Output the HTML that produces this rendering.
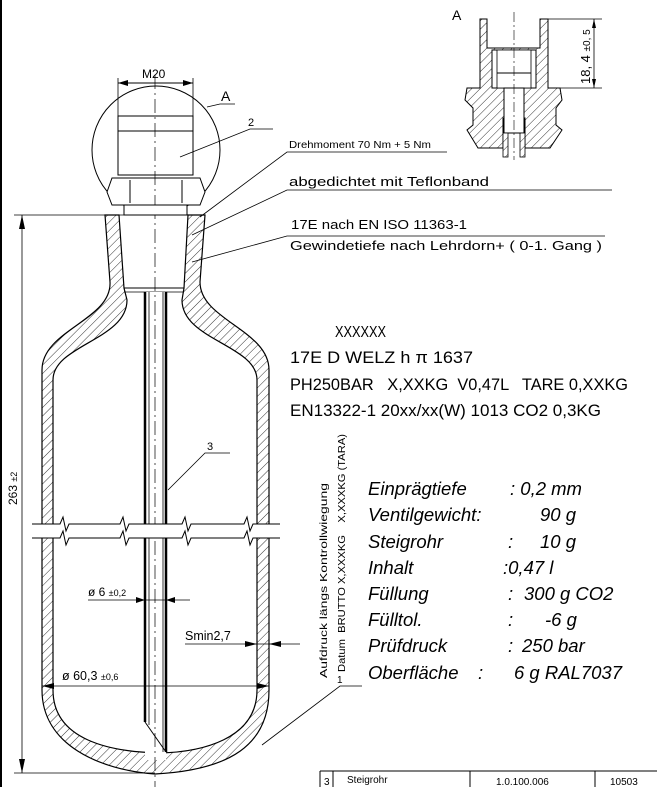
<!DOCTYPE html>
<html><head><meta charset="utf-8"><style>
html,body{margin:0;padding:0;background:#fff;}
svg{display:block;}
text{font-family:"Liberation Sans",sans-serif;fill:#000;}
.it{font-style:italic;font-size:18.5px;}
</style></head><body>
<svg width="657" height="787" viewBox="0 0 657 787" xmlns="http://www.w3.org/2000/svg">
<defs>
<pattern id="h" width="6" height="6" patternUnits="userSpaceOnUse" patternTransform="rotate(45)">
<rect width="6" height="6" fill="#fff"/><line x1="0" y1="0" x2="0" y2="6" stroke="#000" stroke-width="0.8"/>
</pattern>
<marker id="ar" markerWidth="10" markerHeight="6" refX="10" refY="3" orient="auto" markerUnits="userSpaceOnUse"><path d="M0,0 L10,3 L0,6z" fill="#000"/></marker>
</defs>
<line x1="1" y1="0" x2="1" y2="787" stroke="#000" stroke-width="2"/>

<path d="M105,215 L110,282 C112,320 42,330 42,370 L42,690 C42,745 100,770 155,774 C230,770 269,745 269,690 L269,370 C269,330 200,320 200,282 L205,215 L188,215 L184,288 L182,300 C182,340 257,345 257,380 L257,690 C257,740 200,752 160,753 C110,752 53,740 53,690 L53,380 C53,345 127,340 127,300 L124,288 L119,215 Z" fill="url(#h)" stroke="#000" stroke-width="1.2"/>
<line x1="124" y1="288" x2="184" y2="288" stroke="#000"/>
<line x1="124" y1="292" x2="184" y2="292" stroke="#000" stroke-width="0.7"/>

<rect x="145" y="292" width="21" height="468" fill="#fff"/>
<line x1="145" y1="292" x2="145" y2="722" stroke="#000" stroke-width="2.5"/>
<line x1="166" y1="292" x2="166" y2="752" stroke="#000" stroke-width="2.5"/>
<line x1="149" y1="292" x2="149" y2="725" stroke="#000" stroke-width="0.8"/>
<line x1="163" y1="292" x2="163" y2="752" stroke="#000" stroke-width="0.8"/>
<line x1="145" y1="722" x2="166" y2="752" stroke="#000"/>
<line x1="155" y1="205" x2="155" y2="787" stroke="#000" stroke-width="0.7" stroke-dasharray="14,4,2,4"/>

<rect x="30" y="524" width="250" height="14" fill="#fff"/>
<path d="M32,524 L60,524 L63,517 L66,531 L69,524 L120,524 L123,517 L126,531 L129,524 L182,524 L185,517 L188,531 L191,524 L244,524 L247,517 L250,531 L253,524 L280,524" fill="none" stroke="#000"/>
<path d="M32,538 L60,538 L63,531 L66,545 L69,538 L120,538 L123,531 L126,545 L129,538 L182,538 L185,531 L188,545 L191,538 L244,538 L247,531 L250,545 L253,538 L280,538" fill="none" stroke="#000"/>

<circle cx="156" cy="150" r="64" fill="none" stroke="#000"/>
<rect x="118" y="116" width="75" height="59" fill="#fff" stroke="#000"/>
<line x1="118" y1="131" x2="193" y2="131" stroke="#000"/>
<path d="M107,192 L112,178 L200,178 L205,192 L200,205 L112,205 Z" fill="#fff" stroke="#000"/>
<path d="M130,180 L130,203 M182,180 L182,203" stroke="#000"/>
<rect x="124" y="205" width="63" height="10" fill="#fff" stroke="#000"/>
<line x1="155" y1="75" x2="155" y2="205" stroke="#000" stroke-width="0.7" stroke-dasharray="14,4,2,4"/>
<line x1="118" y1="78" x2="118" y2="116" stroke="#000" stroke-width="0.8"/>
<line x1="193" y1="78" x2="193" y2="116" stroke="#000" stroke-width="0.8"/>
<line x1="155" y1="83" x2="118" y2="83" stroke="#000" marker-end="url(#ar)"/>
<line x1="155" y1="83" x2="193" y2="83" stroke="#000" marker-end="url(#ar)"/>
<text x="142" y="78" font-size="12">M20</text>
<path d="M207,107 L220,104 L235,104" fill="none" stroke="#000" stroke-width="0.8"/>
<text x="221" y="101" font-size="14">A</text>
<path d="M180,157 L250,129 L273,129" fill="none" stroke="#000" stroke-width="0.8"/>
<text x="248" y="126" font-size="11">2</text>

<path d="M200,217 L287,152 L447,152" fill="none" stroke="#000" stroke-width="0.8"/>
<path d="M192,235 L287,190 L612,190" fill="none" stroke="#000" stroke-width="0.8"/>
<path d="M192,262 L287,236 L605,236" fill="none" stroke="#000" stroke-width="0.8"/>
<text x="289" y="148" font-size="10.5" textLength="142" lengthAdjust="spacingAndGlyphs">Drehmoment 70 Nm + 5 Nm</text>
<text x="289" y="186" font-size="12.5" textLength="200" lengthAdjust="spacingAndGlyphs">abgedichtet mit Teflonband</text>
<text x="291" y="229" font-size="12.5" textLength="176" lengthAdjust="spacingAndGlyphs">17E nach EN ISO 11363-1</text>
<text x="290" y="250" font-size="12.5" textLength="312" lengthAdjust="spacingAndGlyphs">Gewindetiefe nach Lehrdorn+ ( 0-1. Gang )</text>

<text x="335" y="337" font-size="16" textLength="51" lengthAdjust="spacingAndGlyphs">XXXXXX</text>
<text x="290" y="363" font-size="17" textLength="183" lengthAdjust="spacingAndGlyphs">17E D WELZ h π 1637</text>
<text x="290" y="390" font-size="17" textLength="338" lengthAdjust="spacingAndGlyphs" xml:space="preserve">PH250BAR   X,XXKG  V0,47L   TARE 0,XXKG</text>
<text x="290" y="416" font-size="17" textLength="311" lengthAdjust="spacingAndGlyphs">EN13322-1 20xx/xx(W) 1013 CO2 0,3KG</text>

<g class="it">
<text x="368" y="495">Einprägtiefe</text><text x="510" y="495">: 0,2 mm</text>
<text x="368" y="521">Ventilgewicht:</text><text x="540" y="521">90 g</text>
<text x="368" y="548">Steigrohr</text><text x="508" y="548">:</text><text x="540" y="548">10 g</text>
<text x="368" y="574">Inhalt</text><text x="503" y="574">:0,47 l</text>
<text x="368" y="600">Füllung</text><text x="508" y="600">:</text><text x="524" y="600">300 g CO2</text>
<text x="368" y="626">Fülltol.</text><text x="508" y="626">:</text><text x="545" y="626">-6 g</text>
<text x="368" y="652">Prüfdruck</text><text x="508" y="652">:</text><text x="522" y="652">250 bar</text>
<text x="368" y="679">Oberfläche</text><text x="478" y="679">:</text><text x="514" y="679">6 g RAL7037</text>
</g>

<text transform="translate(327,678) rotate(-90)" font-size="10.5" textLength="195" lengthAdjust="spacingAndGlyphs">Aufdruck längs Kontrollwiegung</text>
<text transform="translate(345,672) rotate(-90)" font-size="10.5" textLength="238" lengthAdjust="spacingAndGlyphs" xml:space="preserve">Datum  BRUTTO X,XXXKG    X,XXXKG (TARA)</text>
<text x="337" y="683" font-size="10">1</text>
<path d="M262,745 L340,686 L362,686" fill="none" stroke="#000" stroke-width="0.8"/>

<path d="M168,490 L205,453 L230,453" fill="none" stroke="#000" stroke-width="0.8"/>
<text x="207" y="450" font-size="11">3</text>

<line x1="88" y1="600" x2="190" y2="600" stroke="#000" stroke-width="0.8"/>
<path d="M145,600 l-9,-3 v6z M166,600 l9,-3 v6z" fill="#000"/>
<text x="88" y="596" font-size="12">ø 6 <tspan font-size="9">±0,2</tspan></text>
<line x1="185" y1="644" x2="300" y2="644" stroke="#000" stroke-width="0.8"/>
<path d="M257,644 l-12,-3 v6z M269,644 l12,-3 v6z" fill="#000"/>
<text x="185" y="640" font-size="12.5">Smin2,7</text>
<line x1="42" y1="686" x2="269" y2="686" stroke="#000" stroke-width="0.8"/>
<path d="M42,686 l12,-3 v6z M269,686 l-12,-3 v6z" fill="#000"/>
<text x="62" y="680" font-size="12.5">ø 60,3 <tspan font-size="9">±0,6</tspan></text>

<line x1="14" y1="215" x2="205" y2="215" stroke="#000" stroke-width="0.8"/>
<line x1="14" y1="773" x2="155" y2="773" stroke="#000" stroke-width="0.8"/>
<line x1="22" y1="215" x2="22" y2="773" stroke="#000" stroke-width="0.8"/>
<path d="M22,215 l-3,14 h6z M22,773 l-3,-14 h6z" fill="#000"/>
<text transform="translate(17,505) rotate(-90)" font-size="12">263 <tspan font-size="9">±2</tspan></text>

<text x="452" y="20" font-size="14">A</text>
<path d="M480,19 L487,19 L487,48 L540,48 L540,19 L548,19 L548,88 L560,88 L562,100 L556,108 L556,125 L562,130 L550,148 L525,148 L525,118 L503,118 L503,148 L478,148 L467,130 L473,125 L473,108 L465,100 L467,88 L480,88 Z" fill="url(#h)" stroke="#000"/>
<rect x="492" y="50" width="44" height="38" fill="#fff" stroke="#000"/>
<rect x="497" y="50" width="34" height="38" fill="#fff" stroke="#000" stroke-width="0.8"/>
<line x1="497" y1="73" x2="531" y2="73" stroke="#000"/>
<rect x="504" y="88" width="20" height="45" fill="#fff" stroke="#000"/>
<rect x="503" y="133" width="5" height="24" fill="url(#h)" stroke="#000" stroke-width="0.8"/>
<rect x="520" y="133" width="5" height="24" fill="url(#h)" stroke="#000" stroke-width="0.8"/>
<line x1="514" y1="12" x2="514" y2="160" stroke="#000" stroke-width="0.6" stroke-dasharray="10,3,2,3"/>
<line x1="548" y1="19" x2="602" y2="19" stroke="#000" stroke-width="0.8"/>
<line x1="548" y1="88" x2="602" y2="88" stroke="#000" stroke-width="0.8"/>
<line x1="594" y1="19" x2="594" y2="88" stroke="#000" stroke-width="0.8"/>
<path d="M594,19 l-2,9 h4z M594,88 l-2,-9 h4z" fill="#000"/>
<text transform="translate(590,84) rotate(-90)" font-size="13">18, 4 <tspan font-size="10">±0, 5</tspan></text>

<path d="M320,771 H657 M320,771 V787 M333,771 V787 M470,771 V787 M595,771 V787" stroke="#000" fill="none"/>
<text x="324" y="785" font-size="10">3</text>
<text x="347" y="783" font-size="10">Steigrohr</text>
<text x="496" y="785" font-size="10">1.0.100.006</text>
<text x="610" y="785" font-size="10">10503</text>
</svg>
</body></html>
